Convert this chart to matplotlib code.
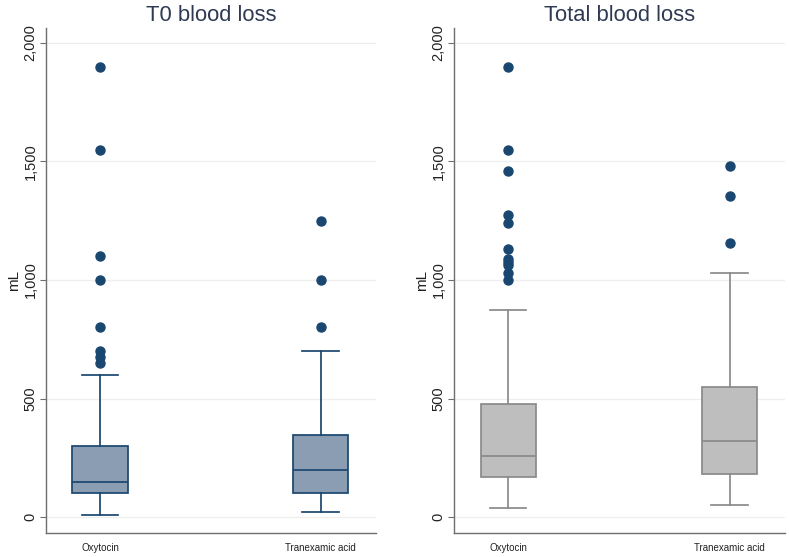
import matplotlib
matplotlib.use('Agg')
import matplotlib.pyplot as plt
from matplotlib.ticker import FuncFormatter

plt.rcParams['font.family'] = ['Liberation Sans', 'DejaVu Sans']

# === Data (mL) ===
groups = ["Oxytocin", "Tranexamic acid"]

# T0 blood loss
t0_q1 = [100, 100]
t0_med = [150, 200]
t0_q3 = [298, 348]
t0_lo = [10, 20]
t0_hi = [600, 700]
t0_out = [[650, 675, 700, 800, 1000, 1100, 1550, 1900],
          [800, 1000, 1250]]

# Total blood loss
tot_q1 = [170, 180]
tot_med = [258, 320]
tot_q3 = [475, 550]
tot_lo = [40, 50]
tot_hi = [875, 1030]
tot_out = [[1000, 1030, 1062, 1075, 1090, 1130, 1240, 1275, 1460, 1548, 1900],
           [1158, 1355, 1482]]

yticks = [0, 500, 1000, 1500, 2000]

navy = '#1a476f'
axcol = '#6e6e6e'


def make_stats(q1, med, q3, lo, hi, out):
    return [dict(q1=q1[i], med=med[i], q3=q3[i], whislo=lo[i], whishi=hi[i],
                 fliers=out[i], label=groups[i]) for i in range(len(groups))]


def draw_panel(ax, stats, title, face, edge):
    ax.bxp(stats, positions=[1, 2], widths=0.25, capwidths=0.165,
           patch_artist=True, showfliers=True,
           boxprops=dict(facecolor=face, edgecolor=edge, linewidth=1.25),
           medianprops=dict(color=edge, linewidth=1.25),
           whiskerprops=dict(color=edge, linewidth=1.25),
           capprops=dict(color=edge, linewidth=1.25),
           flierprops=dict(marker='o', markerfacecolor=navy, markeredgecolor=navy,
                           markersize=6.5, linestyle='none'))
    ax.set_xlim(0.755, 2.25)
    ax.set_ylim(-67, 2063)
    ax.set_yticks(yticks)
    ax.yaxis.set_major_formatter(FuncFormatter(lambda v, p: f"{v:,.0f}"))
    ax.grid(axis='y', color='#eeeeee', linewidth=0.9)
    ax.set_axisbelow(True)
    for s in ['top', 'right']:
        ax.spines[s].set_visible(False)
    for s in ['left', 'bottom']:
        ax.spines[s].set_color(axcol)
        ax.spines[s].set_linewidth(1.0)
    ax.tick_params(axis='y', colors=axcol, length=4, width=0.8, labelsize=10.5,
                   labelcolor='#222222', labelrotation=90, pad=2)
    for lab in ax.get_yticklabels():
        lab.set_verticalalignment('center')
    ax.tick_params(axis='x', length=0, labelsize=7, labelcolor='#222222', pad=7)
    ax.set_ylabel("mL", fontsize=11, color='#222222', labelpad=2)
    ax.set_title(title, fontsize=15.8, color='#2e3a52', pad=5)


fig = plt.figure(figsize=(7.89, 5.57), dpi=100)
fig.set_facecolor('white')

ax1 = fig.add_axes([0.0583, 0.0431, 0.418, 0.9066])
ax2 = fig.add_axes([0.5754, 0.0431, 0.4195, 0.9066])

draw_panel(ax1, make_stats(t0_q1, t0_med, t0_q3, t0_lo, t0_hi, t0_out),
           "T0 blood loss", '#8b9db3', navy)
draw_panel(ax2, make_stats(tot_q1, tot_med, tot_q3, tot_lo, tot_hi, tot_out),
           "Total blood loss", '#bebebe', '#8a8a8a')

plt.savefig("out.png", dpi=100)
plt.close()
